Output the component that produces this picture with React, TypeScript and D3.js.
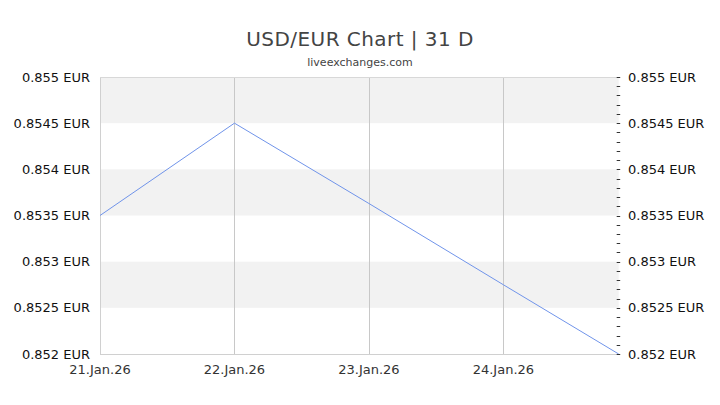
import React from "react";
import * as d3 from "d3";

const dates = ["2026-01-21T00:00", "2026-01-22T00:00", "2026-01-23T00:00", "2026-01-24T00:00", "2026-01-24T20:35"];
const rates = [0.8535, 0.8545, 0.85363, 0.85275, 0.852];
const yTicks = [0.852, 0.8525, 0.853, 0.8535, 0.854, 0.8545, 0.855];
const xTickDates = ["2026-01-21T00:00", "2026-01-22T00:00", "2026-01-23T00:00", "2026-01-24T00:00"];
const xTickLabels = ["21.Jan.26", "22.Jan.26", "23.Jan.26", "24.Jan.26"];

const W = 720, H = 405;
const L = 100, R = 618.7, T = 77, B = 354;
const FONT = "'DejaVu Sans', sans-serif";

export default function App() {
  const parse = (s: string) => new Date(s);
  const x = d3.scaleTime().domain([parse(dates[0]), parse(dates[dates.length - 1])]).range([L, R]);
  const y = d3.scaleLinear().domain([0.852, 0.855]).range([B, T]);
  const pts: [number, number][] = dates.map((d, i) => [x(parse(d)), y(rates[i])]);
  const line = d3.line()(pts) || "";
  const bands = d3.range(0, yTicks.length - 1).filter((i) => (yTicks.length - 2 - i) % 2 === 0);
  const minor = d3.range(0, 31).map((i) => 0.852 + i * 0.0001);
  const fmt = (v: number) => `${+v.toFixed(4)} EUR`;

  return (
    <svg width={W} height={H} style={{ position: "absolute", left: 0, top: 0, background: "#fff" }} fontFamily={FONT}>
      <rect x={0} y={0} width={W} height={H} fill="#fff" />
      <text x={360} y={46} textAnchor="middle" fontSize={20} letterSpacing={0.45} fill="#444">USD/EUR Chart | 31 D</text>
      <text x={360} y={66} textAnchor="middle" fontSize={11} fill="#444">liveexchanges.com</text>
      {bands.map((i) => (
        <rect key={i} x={L} y={y(yTicks[i + 1])} width={R - L} height={y(yTicks[i]) - y(yTicks[i + 1])} fill="#f2f2f2" />
      ))}
      {xTickDates.slice(1).map((d) => (
        <line key={d} x1={Math.round(x(parse(d))) + 0.5} x2={Math.round(x(parse(d))) + 0.5} y1={T} y2={B} stroke="#c8c8c8" />
      ))}
      <line x1={L + 0.5} x2={L + 0.5} y1={T} y2={B} stroke="#d0d0d0" />
      <line x1={L} x2={R + 1.5} y1={T + 0.5} y2={T + 0.5} stroke="#d8d8d8" />
      <line x1={L} x2={R + 1.5} y1={B + 0.5} y2={B + 0.5} stroke="#d0d0d0" />
      <path d={line} fill="none" stroke="#7094ea" strokeWidth={1} />
      {minor.map((v, i) => (
        <line key={i} x1={R - 2} x2={R + 1.5} y1={Math.round(y(v)) + 0.5} y2={Math.round(y(v)) + 0.5} stroke="#333" />
      ))}
      {yTicks.map((v) => (
        <text key={"l" + v} x={90} y={y(v) + 4.5} textAnchor="end" fontSize={13} fill="#111">{fmt(v)}</text>
      ))}
      {yTicks.map((v) => (
        <text key={"r" + v} x={628} y={y(v) + 4.5} textAnchor="start" fontSize={13} fill="#111">{fmt(v)}</text>
      ))}
      {xTickDates.map((d, i) => (
        <text key={d} x={x(parse(d))} y={374} textAnchor="middle" fontSize={13} fill="#333">{xTickLabels[i]}</text>
      ))}
    </svg>
  );
}
